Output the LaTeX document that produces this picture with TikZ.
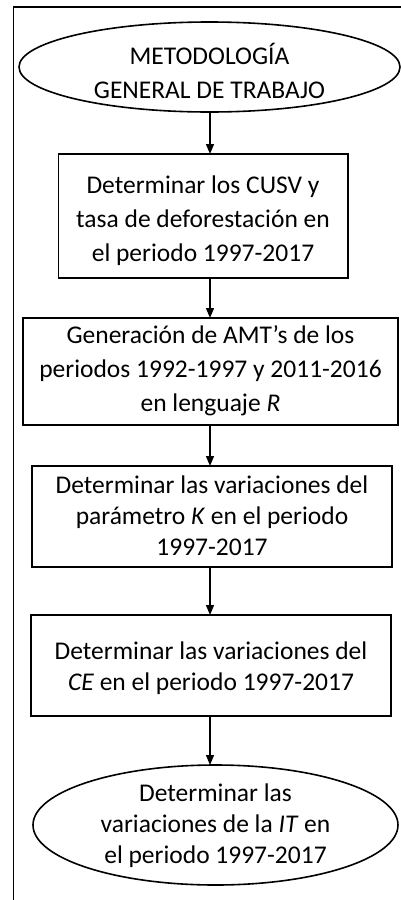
\documentclass[tikz,border=0pt]{standalone}
\usepackage{fontspec}
\setmainfont{Carlito}
\usetikzlibrary{shapes.geometric,arrows.meta}
\begin{document}
\begin{tikzpicture}[x=1pt,y=-1pt,
  every node/.style={inner sep=0pt, outer sep=0pt},
  box/.style={draw, line width=1.6pt, rectangle},
  oval/.style={draw, line width=1.6pt, ellipse},
  txt/.style={align=center, font=\fontsize{25.5}{34}\selectfont},
  txtb/.style={align=center, font=\fontsize{25.5}{31}\selectfont},
  arr/.style={-{Triangle[length=10pt,width=8pt]}, line width=1.3pt},
  frame/.style={line width=1.6pt}]
\useasboundingbox (0,0) rectangle (401,900);
\draw[frame] (13.3,900) -- (13.3,6.7) -- (401,6.7);
\coordinate (ax) at (210,0);
% shapes
\node[oval, minimum width=381pt, minimum height=90pt] (e1) at (209.5,67) {};
\node[box, minimum width=289.5pt, minimum height=124pt] (b1) at (203.25,216) {};
\node[box, minimum width=375pt, minimum height=107pt] (b2) at (210.5,371.5) {};
\node[box, minimum width=360pt, minimum height=101pt] (b3) at (212,516.5) {};
\node[box, minimum width=360pt, minimum height=101pt] (b4) at (211,665.5) {};
\node[oval, minimum width=365pt, minimum height=120pt] (e2) at (215.5,825) {};
% texts
\node[txt] (t1) at (209.5,71) {METODOLOGÍA\\GENERAL DE TRABAJO};
\node[txt] (t2) at (203,221) {Determinar los CUSV y\\tasa de deforestación en\\el periodo 1997-2017};
\node[txt] (t3) at (210.5,371) {Generación de AMT’s de los\\periodos 1992-1997 y 2011-2016\\en lenguaje \textit{R}};
\node[txtb] (t4) at (212,516) {Determinar las variaciones del\\parámetro \textit{K} en el periodo\\1997-2017};
\node[txtb] (t5) at (211,668) {Determinar las variaciones del\\\textit{CE} en el periodo 1997-2017};
\node[txtb] (t6) at (215.5,826) {Determinar las\\variaciones de la \textit{IT} en\\el periodo 1997-2017};
% connectors
\draw[arr] (e1.south -| ax) -- (b1.north -| ax);
\draw[arr] (b1.south -| ax) -- (b2.north -| ax);
\draw[arr] (b2.south -| ax) -- (b3.north -| ax);
\draw[arr] (b3.south -| ax) -- (b4.north -| ax);
\draw[arr] (b4.south -| ax) -- (e2.north -| ax);
\end{tikzpicture}
\end{document}
